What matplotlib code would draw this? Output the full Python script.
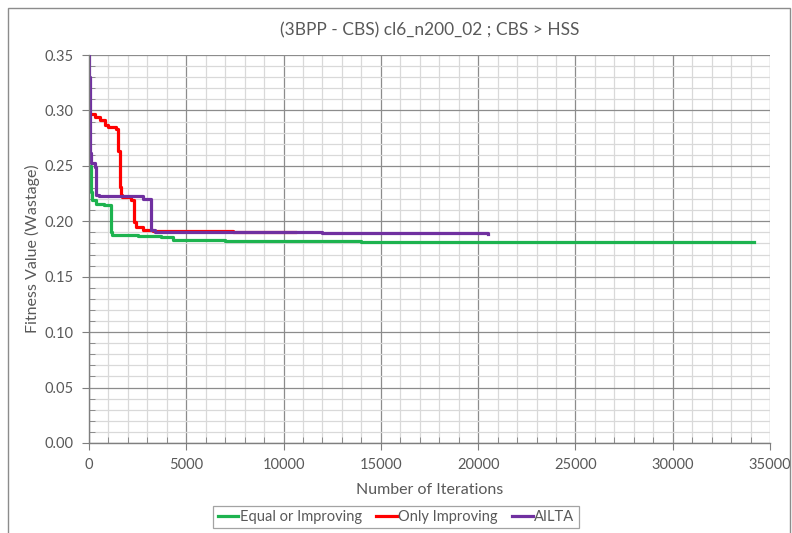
import matplotlib.pyplot as plt
from matplotlib.patches import Rectangle
from matplotlib.ticker import MultipleLocator, FormatStrFormatter

# step histories: iteration at which the best fitness changed, and the new value
green_iter = [0, 80, 130, 350, 750, 1120, 1200, 2500, 3700, 4300, 7000, 10000, 14000, 20000, 34200]
green_val = [0.250, 0.226, 0.2195, 0.2155, 0.2147, 0.1905, 0.1880, 0.1870, 0.1860, 0.1828,
             0.1823, 0.1820, 0.1816, 0.1812, 0.1810]

red_iter = [0, 300, 560, 820, 1000, 1380, 1480, 1580, 1650, 1720, 2150, 2330, 2420, 2800, 3300, 7400, 10600]
red_val = [0.297, 0.294, 0.2915, 0.2865, 0.2850, 0.2835, 0.2630, 0.2310, 0.2240, 0.2215,
           0.2195, 0.1996, 0.1946, 0.1925, 0.1916, 0.1901, 0.1901]

purple_iter = [0, 20, 40, 60, 100, 300, 380, 500, 2760, 3200, 3400, 12000, 20500]
purple_val = [0.370, 0.330, 0.280, 0.262, 0.2525, 0.2490, 0.2240, 0.2228, 0.2200, 0.1920,
              0.1901, 0.1893, 0.1888]

series = [
    ("Equal or Improving", green_iter, green_val, "#1db34f"),
    ("Only Improving", red_iter, red_val, "#ff0000"),
    ("AILTA", purple_iter, purple_val, "#7030a0"),
]

plt.rcParams["font.family"] = ["Lato", "DejaVu Sans"]
text_gray = "#595959"

fig = plt.figure(figsize=(7.92, 5.33), dpi=100)
ax = fig.add_axes([0.1124, 0.1689, 0.8598, 0.7279])

for name, xs, ys, color in series:
    ax.plot(xs, ys, drawstyle="steps-post", color=color, lw=2.3, label=name)

ax.set_xlim(0, 35000)
ax.set_ylim(0, 0.35)
ax.xaxis.set_major_locator(MultipleLocator(5000))
ax.xaxis.set_minor_locator(MultipleLocator(1000))
ax.yaxis.set_major_locator(MultipleLocator(0.05))
ax.yaxis.set_minor_locator(MultipleLocator(0.01))
ax.yaxis.set_major_formatter(FormatStrFormatter("%.2f"))

ax.grid(which="major", color="#8c8c8c", lw=0.9)
ax.grid(which="minor", color="#d9d9d9", lw=0.9)
ax.set_axisbelow(True)

for side in ("top", "right"):
    ax.spines[side].set_visible(False)
for side in ("left", "bottom"):
    ax.spines[side].set_color("#7f7f7f")
    ax.spines[side].set_linewidth(1.0)

ax.tick_params(which="major", direction="out", length=5, color="#7f7f7f",
               labelsize=10.5, labelcolor=text_gray, pad=6)
ax.tick_params(which="minor", direction="in", length=4, color="#7f7f7f")

ax.set_title("(3BPP - CBS) cl6_n200_02 ; CBS > HSS", fontsize=12.5, color=text_gray, pad=14)
ax.set_xlabel("Number of Iterations", fontsize=11.5, color=text_gray, labelpad=8)
ax.set_ylabel("Fitness Value (Wastage)", fontsize=11.5, color=text_gray, labelpad=3)

leg = fig.legend(loc="lower center", bbox_to_anchor=(0.5, -0.005), ncol=3, frameon=True,
                 fancybox=False, fontsize=10.5, handlelength=1.4, handletextpad=0.1,
                 columnspacing=1.0, borderpad=0.3)
leg.get_frame().set_edgecolor("#8c8c8c")
leg.get_frame().set_linewidth(0.9)
for t in leg.get_texts():
    t.set_color(text_gray)

# chart area border
fig.add_artist(Rectangle((8 / 792, -0.02), 782 / 792, 1 - 8 / 533 + 0.02,
                         transform=fig.transFigure, fill=False, edgecolor="#8c8c8c", lw=1.0))

fig.savefig("out.png", dpi=100)
